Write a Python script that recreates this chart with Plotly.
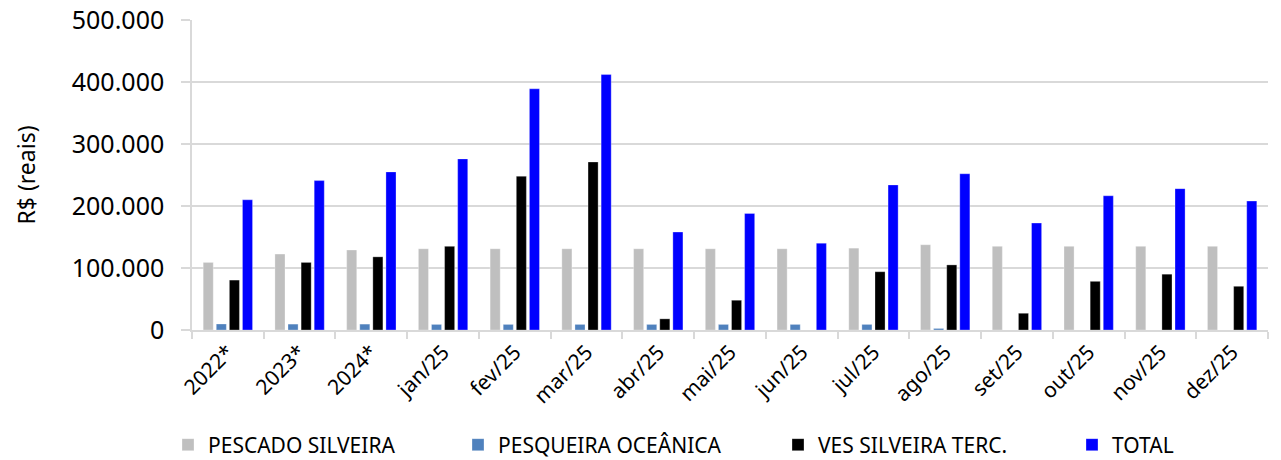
import plotly.graph_objects as go

categories = ["2022*", "2023*", "2024*", "jan/25", "fev/25", "mar/25", "abr/25", "mai/25",
              "jun/25", "jul/25", "ago/25", "set/25", "out/25", "nov/25", "dez/25"]
pescado_silveira = [109000, 122500, 129000, 131000, 131000, 131000, 131000, 131000,
                    131000, 132000, 137500, 135000, 135000, 135000, 135000]
pesqueira_oceanica = [9700, 9500, 9500, 9000, 9000, 9000, 9000, 9000,
                      9000, 9000, 2500, None, None, None, None]
ves_silveira_terc = [80500, 109000, 118000, 135000, 248000, 271000, 18000, 48000,
                     None, 94000, 105000, 27000, 78500, 90000, 70500]
total = [210000, 241000, 255000, 276000, 389000, 412000, 158000, 188000,
         140000, 234000, 252000, 172500, 216500, 228000, 208000]
y_ticks = [0, 100000, 200000, 300000, 400000, 500000]

series = [
    ("PESCADO SILVEIRA", pescado_silveira, "#BFBFBF"),
    ("PESQUEIRA OCEÂNICA", pesqueira_oceanica, "#4F81BD"),
    ("VES SILVEIRA TERC.", ves_silveira_terc, "#000000"),
    ("TOTAL", total, "#0000FF"),
]
legend_ids = ["legend", "legend2", "legend3", "legend4"]
legend_x_px = [160, 450, 770, 1064]

font_family = "Noto Sans, Open Sans, sans-serif"
W, H = 1281, 460

fig = go.Figure()
for (name, vals, color), lid in zip(series, legend_ids):
    fig.add_trace(go.Bar(x=categories, y=vals, name=name, marker_color=color,
                         marker_line_color="rgba(255,255,255,0.6)", marker_line_width=0.5,
                         legend=lid))

legend_layout = {}
for lid, xp in zip(legend_ids, legend_x_px):
    legend_layout[lid] = dict(orientation="h", xref="container", yref="container",
                              x=xp / W, xanchor="left", y=1 - 437 / H, yanchor="middle",
                              font=dict(size=21, family=font_family),
                              itemwidth=30, bgcolor="rgba(0,0,0,0)")

fig.update_layout(
    width=W, height=H,
    margin=dict(l=184, r=21, t=12, b=138, autoexpand=False),
    paper_bgcolor="white", plot_bgcolor="white",
    barmode="group", bargap=0.27, bargroupgap=0.23,
    separators=",.",
    font=dict(family=font_family, color="#000000"),
    showlegend=True,
    **legend_layout,
)
fig.update_xaxes(
    type="category", tickson="boundaries", ticks="outside", ticklen=7,
    tickcolor="#D9D9D9", tickwidth=1.5,
    showline=True, linecolor="#D9D9D9", linewidth=1.5,
    tickangle=-45, tickfont=dict(size=21, family=font_family),
    showgrid=False, automargin=False,
)
fig.update_yaxes(
    range=[0, 500000], tickmode="array", tickvals=y_ticks, tickformat=",d",
    ticklabeloverflow="allow",
    showgrid=True, gridcolor="#D9D9D9", gridwidth=1.5,
    showline=True, linecolor="#D9D9D9", linewidth=1.5,
    ticks="outside", ticklen=9, tickcolor="#D9D9D9", tickwidth=1.5,
    ticklabelstandoff=12,
    tickfont=dict(size=25, family=font_family),
    title=dict(text="R$ (reais)", font=dict(size=23, family=font_family), standoff=30),
    zeroline=False, automargin=False,
)

fig.write_html("out.html")
